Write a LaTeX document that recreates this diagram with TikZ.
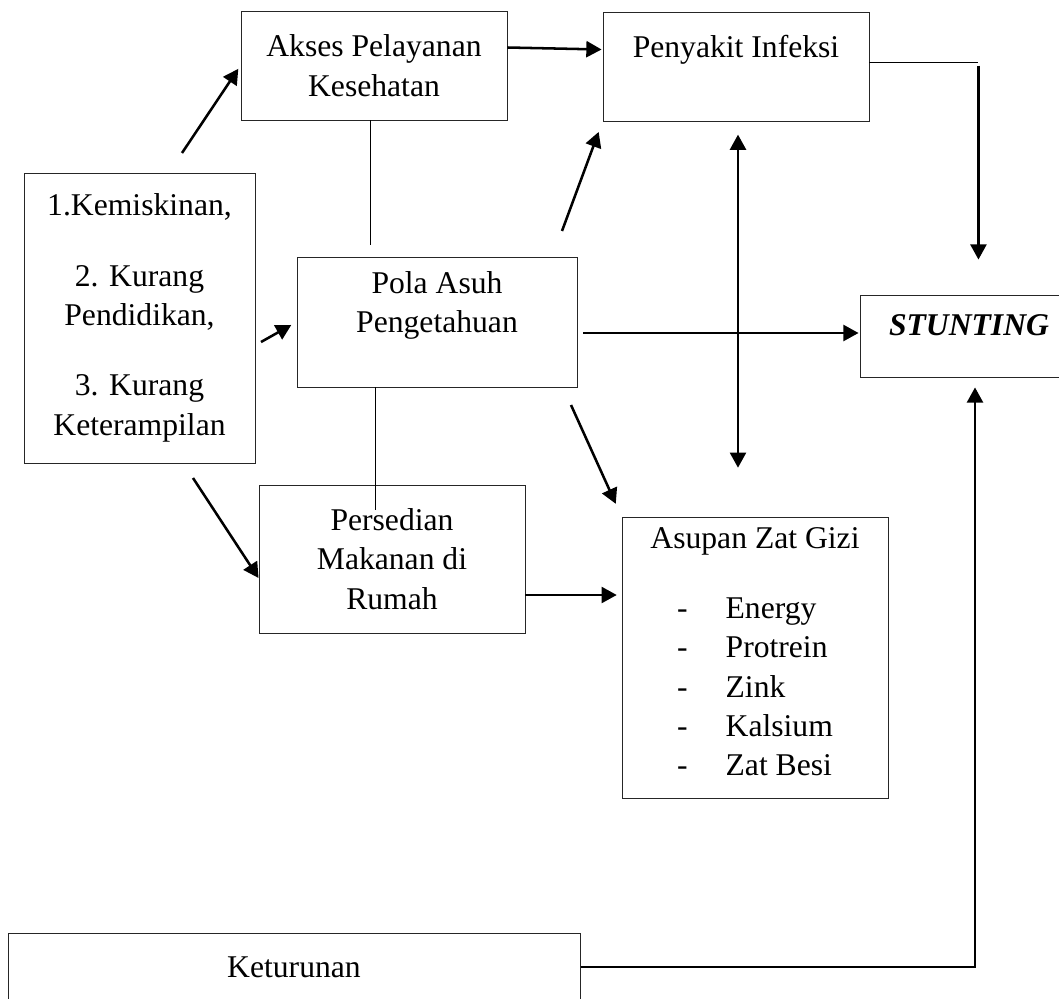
\documentclass[tikz,border=0pt]{standalone}
\usepackage{fontspec}
\setmainfont{Liberation Serif}
\usetikzlibrary{arrows.meta,calc}

\begin{document}
\begin{tikzpicture}[x=0.025cm, y=-0.025cm,
        kotak/.style={rectangle, draw=black!85, line width=0.6pt, inner sep=0pt, align=center, font=\fontsize{22.5}{28}\selectfont},
        panah/.style={line width=1.8pt, -{Triangle[length=3.8mm, width=4mm]}},
        panahdua/.style={line width=1.8pt, {Triangle[length=3.8mm, width=4mm]}-{Triangle[length=3.8mm, width=4mm]}},
        garis/.style={line width=0.7pt}]

        \clip (0,0) rectangle (1059,999);

        \node[kotak, minimum width=6.65cm, minimum height=2.725cm] (akses) at (374,65.5) {Akses Pelayanan\\Kesehatan};
        \node[kotak, minimum width=6.65cm, minimum height=2.725cm] (infeksi) at (736,66.5) {Penyakit Infeksi\\\mbox{}};

        \node[kotak, minimum width=5.775cm, minimum height=7.25cm] (miskin) at (139.5,318) {1.Kemiskinan,\\[22pt]2. Kurang\\Pendidikan,\\[22pt]3. Kurang\\Keterampilan};
        \node[kotak, minimum width=7cm, minimum height=3.25cm] (pola) at (437,322) {Pola Asuh\\Pengetahuan\\\mbox{}};
        \node[kotak, minimum width=5.45cm, minimum height=2.05cm] (stunting) at (969,336) {\textbf{\textit{STUNTING}}\\[-12pt]\mbox{}};

        \node[kotak, minimum width=6.65cm, minimum height=3.7cm] (sedia) at (392,559) {Persedian\\Makanan di\\Rumah};
        \node[kotak, minimum width=6.65cm, minimum height=7.025cm] (asupan) at (755,657.5) {Asupan Zat Gizi\\[22pt]\begin{tabular}[t]{@{}l@{\hspace{0.95cm}}l@{}}
            - & Energy\\
            - & Protrein\\
            - & Zink\\
            - & Kalsium\\
            - & Zat Besi
        \end{tabular}};

        \node[kotak, minimum width=14.3cm, minimum height=1.7cm] (turun) at (294,967) {Keturunan};

        \coordinate (k1) at (182,153);
        \coordinate (k2) at (261,342);
        \coordinate (k3) at (193,478);
        \coordinate (p1) at (562,231);
        \coordinate (p2) at (571,405);
        \coordinate (s1) at ([shift={(0,36)}]sedia.east);

        \draw[panah, shorten >=0.1cm] (k1) -- (akses.west);
        \draw[panah, shorten >=0.15cm] (k2) -- (pola.west);
        \draw[panah] (k3) -- ([shift={(0,19)}]sedia.west);

        \draw[panah] ([shift={(0,-18)}]akses.east) -- ([shift={(-1,-17)}]infeksi.west);
        \draw[garis, shorten >=0.3cm] ([xshift=-0.1cm]akses.south) -- ([xshift=-0.1cm]akses.south |- pola.north);
        \draw[garis] ([xshift=-1.525cm]pola.south) -- ++(0,123);

        \draw[panah, shorten >=0.28cm] (p1) -- (infeksi.south west);
        \draw[panah] ([shift={(6,11)}]pola.east) -- ([shift={(-1,-3)}]stunting.west);
        \draw[panah, shorten >=0.35cm] (p2) -- (asupan.north west);
        \draw[panah, shorten >=0.12cm] (s1) -- (s1 -| asupan.west);

        \draw[panahdua, shorten <=0.33cm, shorten >=1.22cm] ([xshift=0.05cm]infeksi.south) -- ([xshift=0.05cm]infeksi.south |- asupan.north);

        \draw[garis] ([shift={(0,-4)}]infeksi.east) -- ++(109,0) coordinate (sudut);
        \draw[panah, shorten <=0.08cm, shorten >=0.875cm] (sudut) -- (sudut |- stunting.north);
        \draw[panah, shorten >=0.25cm] (turun.east) -| ([xshift=0.15cm]stunting.south);
    \end{tikzpicture}
\end{document}
